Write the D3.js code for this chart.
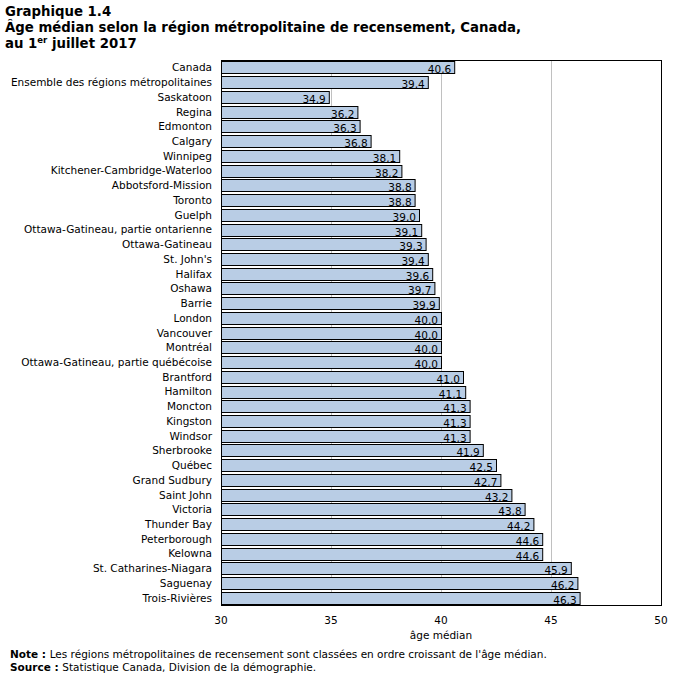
<!DOCTYPE html>
<html lang="fr">
<head>
<meta charset="UTF-8">
<title>Graphique 1.4</title>
<script src="https://d3js.org/d3.v7.min.js"></script>
<style>
  body { margin: 0; background: #fff; }
  svg { display: block; font-family: "DejaVu Sans", Verdana, sans-serif; }
</style>
</head>
<body>
<svg></svg>
<script>
  // régions, dans l'ordre du graphique
  const regions = [
    'Canada', 'Ensemble des régions métropolitaines', 'Saskatoon', 'Regina', 'Edmonton',
    'Calgary', 'Winnipeg', 'Kitchener-Cambridge-Waterloo', 'Abbotsford-Mission', 'Toronto',
    'Guelph', 'Ottawa-Gatineau, partie ontarienne', 'Ottawa-Gatineau', "St. John's", 'Halifax',
    'Oshawa', 'Barrie', 'London', 'Vancouver', 'Montréal',
    'Ottawa-Gatineau, partie québécoise', 'Brantford', 'Hamilton', 'Moncton', 'Kingston',
    'Windsor', 'Sherbrooke', 'Québec', 'Grand Sudbury', 'Saint John',
    'Victoria', 'Thunder Bay', 'Peterborough', 'Kelowna', 'St. Catharines-Niagara',
    'Saguenay', 'Trois-Rivières'
  ]
  // âge médian
  const ages = [
    40.6, 39.4, 34.9, 36.2, 36.3,
    36.8, 38.1, 38.2, 38.8, 38.8,
    39.0, 39.1, 39.3, 39.4, 39.6,
    39.7, 39.9, 40.0, 40.0, 40.0,
    40.0, 41.0, 41.1, 41.3, 41.3,
    41.3, 41.9, 42.5, 42.7, 43.2,
    43.8, 44.2, 44.6, 44.6, 45.9,
    46.2, 46.3
  ]
  const xTicks = [30, 35, 40, 45, 50]

  const width = 680
  const height = 679
  const margin = { top: 60, right: 19, bottom: 74, left: 221 }

  const svg = d3.select('svg').attr('width', width).attr('height', height)

  // titre
  const title = svg.append('text')
    .attr('font-weight', 'bold')
    .attr('font-size', 13.3)
  title.append('tspan').attr('x', 5).attr('y', 16).text('Graphique  1.4')
  title.append('tspan').attr('x', 5).attr('y', 32)
    .text('Âge médian selon la région  métropolitaine  de recensement, Canada,')
  const t3 = title.append('tspan').attr('x', 5).attr('y', 48)
  t3.append('tspan').text('au 1')
  t3.append('tspan').attr('font-size', 8.5).attr('dy', -5).text('er')
  t3.append('tspan').attr('dy', 5).text(' juillet  2017')

  const x = d3.scaleLinear()
    .domain([30, 50])
    .range([margin.left, width - margin.right])

  const y = d3.scaleBand()
    .domain(regions)
    .range([margin.top, height - margin.bottom])
    .paddingInner(0.2)
    .paddingOuter(0.1)

  // grille verticale
  svg.append('g')
    .selectAll('line')
    .data(xTicks.slice(1, -1))
    .join('line')
    .attr('x1', d => x(d) + 0.5).attr('x2', d => x(d) + 0.5)
    .attr('y1', margin.top).attr('y2', height - margin.bottom)
    .attr('stroke', '#c0c0c0')
    .attr('stroke-width', 1)

  // barres
  svg.append('g')
    .selectAll('rect')
    .data(regions)
    .join('rect')
    .attr('x', x(30) + 0.5)
    .attr('y', d => Math.round(y(d)) + 0.5)
    .attr('width', (d, i) => x(ages[i]) - x(30))
    .attr('height', Math.round(y.bandwidth()))
    .attr('fill', '#b9cde5')
    .attr('stroke', '#000')
    .attr('stroke-width', 1)

  // valeurs
  svg.append('g')
    .attr('font-size', 10.5)
    .attr('text-anchor', 'end')
    .selectAll('text')
    .data(regions)
    .join('text')
    .attr('x', (d, i) => x(ages[i]) - 3)
    .attr('y', d => Math.round(y(d)) + Math.round(y.bandwidth()))
    .text((d, i) => d3.format('.1f')(ages[i]).replace('.', ','))

  // cadre
  svg.append('rect')
    .attr('x', margin.left + 0.5)
    .attr('y', margin.top + 0.5)
    .attr('width', x(50) - x(30))
    .attr('height', height - margin.bottom - margin.top)
    .attr('fill', 'none')
    .attr('stroke', '#000')

  // étiquettes des régions
  svg.append('g')
    .attr('font-size', 10.5)
    .attr('text-anchor', 'end')
    .selectAll('text')
    .data(regions)
    .join('text')
    .attr('x', margin.left - 9)
    .attr('y', d => y(d) + y.bandwidth() / 2 + 4)
    .text(d => d)

  // axe x
  svg.append('g')
    .attr('font-size', 10.5)
    .attr('text-anchor', 'middle')
    .selectAll('text')
    .data(xTicks)
    .join('text')
    .attr('x', d => x(d))
    .attr('y', 624)
    .text(d => d)

  svg.append('text')
    .attr('x', x(40))
    .attr('y', 639)
    .attr('font-size', 10.5)
    .attr('text-anchor', 'middle')
    .text('âge médian')

  // notes
  const note = svg.append('text').attr('font-size', 10.5).attr('x', 10).attr('y', 658)
  note.append('tspan').attr('font-weight', 'bold').text('Note : ')
  note.append('tspan').text("Les régions métropolitaines de recensement sont classées en ordre croissant de l'âge médian.")
  const source = svg.append('text').attr('font-size', 10.5).attr('x', 10).attr('y', 671)
  source.append('tspan').attr('font-weight', 'bold').text('Source : ')
  source.append('tspan').text('Statistique Canada, Division de la démographie.')
</script>
</body>
</html>
